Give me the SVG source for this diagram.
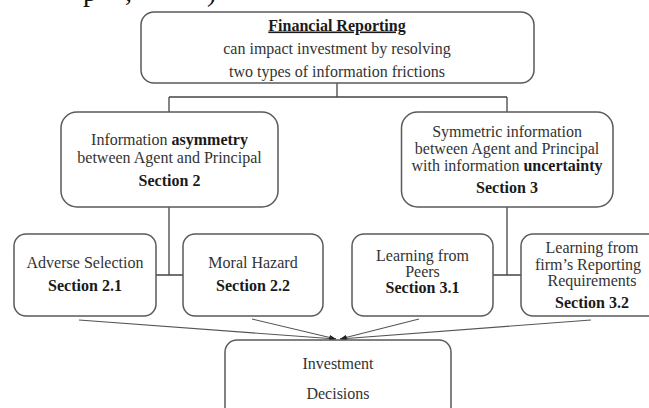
<svg xmlns="http://www.w3.org/2000/svg" width="649" height="408" viewBox="0 0 649 408">
<defs>
<style>
.box{fill:#fff;stroke:#5a5a5a;stroke-width:1.5}
.t{font-family:"Liberation Serif","Times New Roman",serif;font-size:16px;fill:#333;text-anchor:middle}
.b{font-weight:bold;fill:#1a1a1a}
.c{fill:none;stroke:#444;stroke-width:1.3}
.a{fill:none;stroke:#555;stroke-width:1.1}
</style>
<marker id="ah" viewBox="0 0 8 6" refX="8" refY="3" markerWidth="7" markerHeight="5" markerUnits="userSpaceOnUse" orient="auto">
<path d="M0,0 L8,3 L0,6 Z" fill="#222"/>
</marker>
</defs>
<rect width="649" height="408" fill="#fff"/>
<text class="t" style="font-size:28px;text-anchor:start;fill:#111" y="1"><tspan x="83">p</tspan><tspan x="125">,</tspan><tspan x="207">)</tspan></text>
<g id="connectors">
<path class="c" d="M337,83 V97 M169,97 H507 M169,97 V112 M507,97 V112"/>
<path class="c" d="M169,207 V275 M156,275 H183"/>
<path class="c" d="M507,207 V275 M493,275 H521"/>
<line class="a" x1="79" y1="320" x2="336" y2="339" marker-end="url(#ah)"/>
<line class="a" x1="252" y1="319" x2="336" y2="339" marker-end="url(#ah)"/>
<line class="a" x1="419" y1="319" x2="340" y2="339" marker-end="url(#ah)"/>
<line class="a" x1="591" y1="320" x2="340" y2="339" marker-end="url(#ah)"/>
</g>
<g id="financial-reporting">
<rect class="box" x="141" y="12" width="393" height="71" rx="13"/>
<text class="t b" x="337" y="30.5" style="text-decoration:underline">Financial Reporting</text>
<text class="t" x="337" y="53.5">can impact investment by resolving</text>
<text class="t" x="337" y="76.5">two types of information frictions</text>
</g>
<g id="asymmetry">
<rect class="box" x="61" y="112" width="217" height="95" rx="16"/>
<text class="t" x="169.5" y="144.5">Information <tspan class="b">asymmetry</tspan></text>
<text class="t" x="169.5" y="162.5">between Agent and Principal</text>
<text class="t b" x="169.5" y="185.5">Section 2</text>
</g>
<g id="uncertainty">
<rect class="box" x="401.5" y="112" width="211.5" height="95" rx="16"/>
<text class="t" x="507" y="136.5">Symmetric information</text>
<text class="t" x="507" y="153.5">between Agent and Principal</text>
<text class="t" x="507" y="170.5">with information <tspan class="b">uncertainty</tspan></text>
<text class="t b" x="507" y="192.5">Section 3</text>
</g>
<g id="adverse-selection">
<rect class="box" x="14" y="234" width="142" height="82" rx="12"/>
<text class="t" x="85" y="267.5">Adverse Selection</text>
<text class="t b" x="85" y="290.5">Section 2.1</text>
</g>
<g id="moral-hazard">
<rect class="box" x="183" y="234" width="140" height="82" rx="12"/>
<text class="t" x="253" y="267.5">Moral Hazard</text>
<text class="t b" x="253" y="290.5">Section 2.2</text>
</g>
<g id="peers">
<rect class="box" x="352" y="234" width="141" height="82" rx="12"/>
<text class="t" x="422.5" y="260.5">Learning from</text>
<text class="t" x="422.5" y="276.5">Peers</text>
<text class="t b" x="422.5" y="292.5">Section 3.1</text>
</g>
<g id="reporting-requirements">
<rect class="box" x="521" y="234" width="141" height="82" rx="12"/>
<text class="t" x="592" y="253">Learning from</text>
<text class="t" x="588" y="269.5">firm’s Reporting</text>
<text class="t" x="592" y="286">Requirements</text>
<text class="t b" x="592" y="307.5">Section 3.2</text>
</g>
<g id="investment-decisions">
<rect class="box" x="225" y="340" width="226" height="85" rx="12"/>
<text class="t" x="338" y="368.5">Investment</text>
<text class="t" x="338" y="398.5">Decisions</text>
</g>
</svg>
